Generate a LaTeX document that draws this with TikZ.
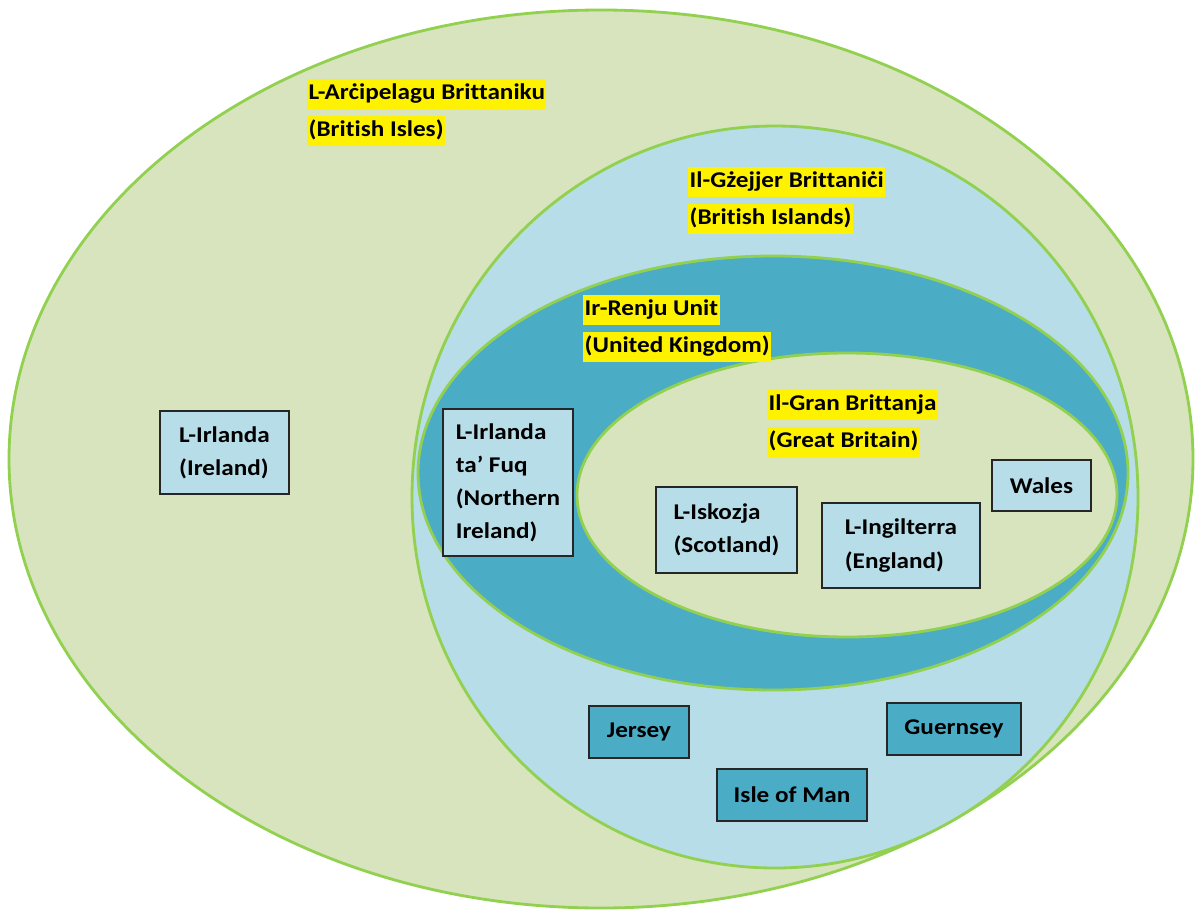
\documentclass[tikz,border=0pt]{standalone}
\usepackage{fontspec}
\setmainfont{Carlito}[FakeStretch=1.12, Ligatures=NoCommon]
\usepackage{tikz}
\usetikzlibrary{positioning}

\definecolor{archgreen}{RGB}{215,228,189}
\definecolor{islblue}{RGB}{183,221,232}
\definecolor{ukteal}{RGB}{75,172,198}
\definecolor{rimgreen}{RGB}{146,208,80}

\tikzset{font=\fontsize{16}{23.5}\selectfont\bfseries}
\tikzset{rim/.style={draw=rimgreen, line width=2pt}}
% country boxes
\tikzset{cbox/.style={draw=black!85, line width=1.2pt, fill=islblue, align=left,
    inner sep=0pt}}
\tikzset{crown/.style={cbox, fill=ukteal}}
% highlighted set names
\tikzset{tag/.style={fill=yellow, inner xsep=1pt, inner ysep=2.5pt,
    text height=12pt, text depth=4pt, anchor=north west}}

\begin{document}
\begin{tikzpicture}[x=0.025cm, y=-0.025cm]
  \useasboundingbox (0,0) rectangle (1196,913);

  % nested sets
  \draw[rim, fill=archgreen] (601,459) ellipse [x radius=592, y radius=449];
  \draw[rim, fill=islblue] (775,497) ellipse [x radius=363, y radius=371];
  \draw[rim, fill=ukteal] (773,473) ellipse [x radius=355, y radius=217];
  \draw[rim, fill=archgreen] (847,495) ellipse [x radius=270, y radius=142];

  \node[tag] (isles) at (307,79) {L-Arċipelagu Brittaniku};
  \node[tag, below=5pt of isles.south west, anchor=north west] (islesen) {(British Isles)};
  \node[tag] (islands) at (688,167) {Il-Gżejjer Brittaniċi};
  \node[tag, below=5pt of islands.south west, anchor=north west] (islandsen) {(British Islands)};
  \node[tag] (uk) at (583,295) {Ir-Renju Unit};
  \node[tag, below=5pt of uk.south west, anchor=north west] (uken) {(United Kingdom)};
  \node[tag] (gb) at (767,390) {Il-Gran Brittanja};
  \node[tag, below=5pt of gb.south west, anchor=north west] (gben) {(Great Britain)};

  \node[cbox, minimum width=3.225cm, minimum height=2.075cm] (ireland) at (224.5,452.5)
    {L-Irlanda\\(Ireland)};
  \node[cbox, minimum width=3.25cm, minimum height=3.675cm] (nireland) at (508,482.5)
    {L-Irlanda\\ta’ Fuq\\(Northern\\Ireland)};
  \node[cbox, minimum width=3.525cm, minimum height=2.15cm] (scotland) at (726.5,530)
    {L-Iskozja\\(Scotland)};
  \node[cbox, minimum width=3.95cm, minimum height=2.125cm] (england) at (901,545.5)
    {L-Ingilterra\\(England)};
  \node[cbox, minimum width=2.475cm, minimum height=1.275cm] (wales) at (1041.5,485.5)
    {Wales};

  \node[crown, minimum width=2.5cm, minimum height=1.3cm] (jersey) at (639,732) {Jersey};
  \node[crown, minimum width=3.35cm, minimum height=1.3cm] (guernsey) at (954,729) {Guernsey};
  \node[crown, minimum width=3.75cm, minimum height=1.3cm] (man) at (792,795) {Isle of Man};
\end{tikzpicture}
\end{document}
